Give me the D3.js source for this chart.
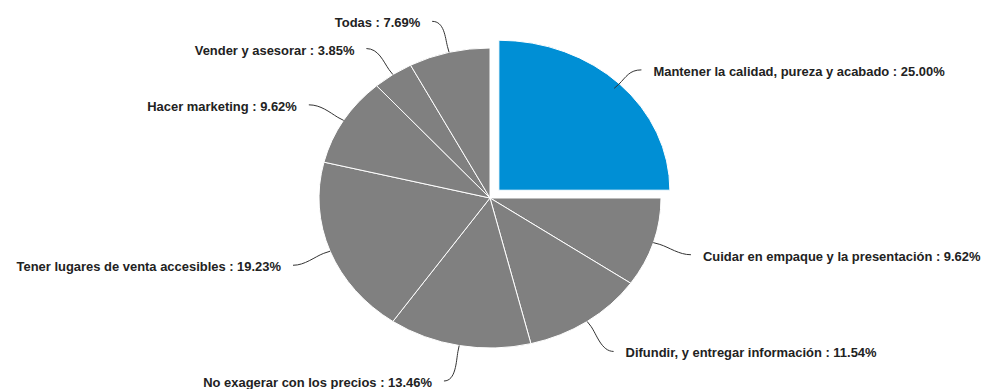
<!DOCTYPE html>
<html>
<head>
<meta charset="utf-8">
<script src="https://cdn.jsdelivr.net/npm/d3@7/dist/d3.min.js"></script>
<style>
  body { margin: 0; background: #fff; }
  svg { display: block; }
</style>
</head>
<body>
<svg id="chart" width="987" height="389"></svg>
<script>
// data
let categories = ["Mantener la calidad, pureza y acabado", "Cuidar en empaque y la presentación",
    "Difundir, y entregar información", "No exagerar con los precios",
    "Tener lugares de venta accesibles", "Hacer marketing", "Vender y asesorar", "Todas"];
let values = [25.00, 9.62, 11.54, 13.46, 19.23, 9.62, 3.85, 7.69];
let selected = 0;

function load_piechart(svg_name) {
    let chart = d3.select(svg_name);
    let cx = 490, cy = 198;
    let radius = 150;
    let stretch = 1.14;   // the pie is wider than tall
    let pulled = 11;

    let rows = categories.map(function(c, i) { return {name: c, value: values[i], i: i}; });

    let pie = d3.pie().sort(null).value(function(d) { return d.value; });
    let arcs = pie(rows);
    let path = d3.arc().outerRadius(radius).innerRadius(0);

    let g = chart.append("g")
        .attr("transform", "translate(" + cx + "," + cy + ") scale(" + stretch + ",1)");

    g.selectAll("path")
        .data(arcs)
        .enter()
        .append("path")
        .attr("d", path)
        .attr("transform", function(d) {
            if (d.data.i !== selected) return null;
            let a = (d.startAngle + d.endAngle) / 2;
            return "translate(" + (pulled * Math.sin(a)) + "," + (-pulled * Math.cos(a)) + ")";
        })
        .attr("fill", function(d) { return d.data.i === selected ? "#008fd5" : "#808080"; })
        .attr("stroke", "#ffffff")
        .attr("stroke-width", 1)
        .attr("vector-effect", "non-scaling-stroke")
        .attr("stroke-linejoin", "round");

    // labels + soft connectors
    let lab = chart.append("g");
    arcs.forEach(function(d) {
        let a = (d.startAngle + d.endAngle) / 2;
        let s = Math.sin(a), c = Math.cos(a);
        let side = s >= 0 ? 1 : -1;
        let ox = 0, oy = 0;
        if (d.data.i === selected) { ox = pulled * s * stretch; oy = -pulled * c; }

        // edge point on the (stretched) pie
        let px = cx + ox + radius * stretch * s;
        let py = cy + oy - radius * c;
        if (d.data.i === selected) { px -= 8 * s; py += 6 * c; }

        let tx = cx + side * (200 * Math.abs(s) + 22);
        let ty = cy + 4 - 184 * c;
        if (ty < 22) ty = 18;
        let ex = tx - side * 12, ey = ty - 2;

        let p1x = px + 6 * s * stretch, p1y = py - 6 * c;
        let q1x = p1x + 10 * s, q1y = p1y - 10 * c;
        let q2x = ex - side * 12, q2y = ey;

        lab.append("path")
            .attr("d", "M" + px + "," + py + "L" + p1x + "," + p1y +
                "C" + q1x + "," + q1y + " " + q2x + "," + q2y + " " + ex + "," + ey)
            .attr("fill", "none")
            .attr("stroke", "#333333")
            .attr("stroke-width", 1);

        lab.append("text")
            .attr("transform", "translate(" + tx + "," + (ty + 4) + ") scale(1.08,1)")
            .attr("text-anchor", side > 0 ? "start" : "end")
            .style("font-family", "'Liberation Sans', Arial, sans-serif")
            .style("font-size", "12px")
            .style("font-weight", "bold")
            .style("fill", "#222222")
            .text(d.data.name + " : " + d3.format(".2f")(d.data.value) + "%");
    });
}

load_piechart("#chart");
</script>
</body>
</html>
